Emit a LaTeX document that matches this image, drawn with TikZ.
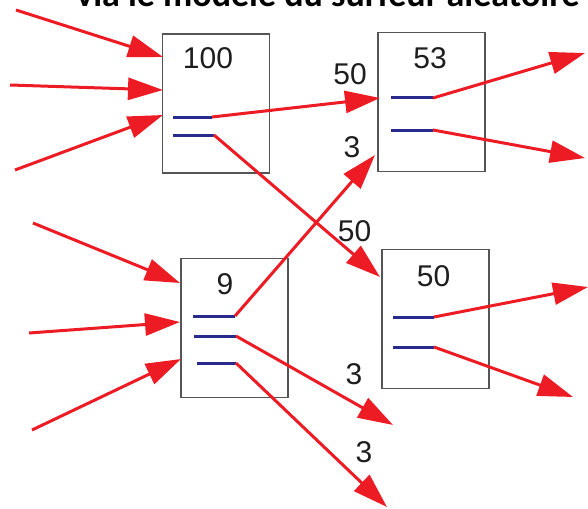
\documentclass[tikz,border=0pt]{standalone}
\usepackage{fontspec}
\setmainfont{Liberation Sans}
\newfontfamily\headfont{Carlito}
\usepackage{xcolor}
\definecolor{arrowred}{RGB}{237,28,36}
\definecolor{slotblue}{RGB}{40,42,140}
\definecolor{boxgray}{RGB}{85,85,85}
\definecolor{ink}{RGB}{30,30,30}
\usepackage{tikz}
\usetikzlibrary{arrows.meta}

\begin{document}
\begin{tikzpicture}[
        x=1pt, y=-1pt,
        page/.style={rectangle, draw=boxgray, line width=1.3pt, minimum width=107pt, minimum height=139pt, inner sep=0pt},
        rank/.style={font=\fontsize{30}{36}\selectfont, text=ink, inner sep=0pt},
        weight/.style={font=\fontsize{30}{36}\selectfont, text=ink, inner sep=0pt},
        slot/.style={-, line width=3pt, slotblue},
        flow/.style={-{Triangle[length=35pt, width=22pt]}, line width=3pt, arrowred}
    ]
        \useasboundingbox (0,0) rectangle (588,508);
        \node[anchor=base, text=black, font=\headfont\bfseries\fontsize{36}{40}\selectfont] (title) at (328,7) {via le modèle du surfeur aléatoire};

        \node[page] (pA) at (216,103.5) {};
        \node[page] (pB) at (431.5,102) {};
        \node[page] (pC) at (234.5,328) {};
        \node[page] (pD) at (435.5,319) {};

        \node[rank] (rA) at (208,58) {100};
        \node[rank] (rB) at (430,58) {53};
        \node[rank] (rC) at (225,284) {9};
        \node[rank] (rD) at (433.5,276.5) {50};

        \coordinate (sA1) at (173,117);  \coordinate (oA1) at (212,117);
        \coordinate (sA2) at (173,135);  \coordinate (oA2) at (214,135);
        \coordinate (sB1) at (391,98);   \coordinate (oB1) at (433,98);
        \coordinate (sB2) at (391,130);  \coordinate (oB2) at (433,130);
        \coordinate (sC1) at (193,316);  \coordinate (oC1) at (235,316);
        \coordinate (sC2) at (194,336);  \coordinate (oC2) at (236,336);
        \coordinate (sC3) at (197,363);  \coordinate (oC3) at (236,363);
        \coordinate (sD1) at (393,317);  \coordinate (oD1) at (434,317);
        \coordinate (sD2) at (393,347);  \coordinate (oD2) at (434,347);

        \draw[slot] (sA1) -- (oA1);
        \draw[slot] (sA2) -- (oA2);
        \draw[slot] (sB1) -- (oB1);
        \draw[slot] (sB2) -- (oB2);
        \draw[slot] (sC1) -- (oC1);
        \draw[slot] (sC2) -- (oC2);
        \draw[slot] (sC3) -- (oC3);
        \draw[slot] (sD1) -- (oD1);
        \draw[slot] (sD2) -- (oD2);

        \coordinate (inA1) at (16,10);   \coordinate (tA1) at (163,57);
        \coordinate (inA2) at (10,85);   \coordinate (tA2) at (163,90);
        \coordinate (inA3) at (15,170);  \coordinate (tA3) at (163,115);
        \coordinate (inC1) at (33,223);  \coordinate (tC1) at (180,283);
        \coordinate (inC2) at (29,333);  \coordinate (tC2) at (180,322);
        \coordinate (inC3) at (32,430);  \coordinate (tC3) at (181,359);
        \coordinate (tB1) at (380,98);
        \coordinate (tB2) at (375,155);
        \coordinate (tD1) at (380,277);
        \coordinate (outB1) at (585,53);
        \coordinate (outB2) at (585,158);
        \coordinate (outC2) at (393,425);
        \coordinate (outC3) at (387,507);
        \coordinate (outD1) at (588,287);
        \coordinate (outD2) at (573,397);

        \draw[flow] (inA1) -- (tA1);
        \draw[flow] (inA2) -- (tA2);
        \draw[flow] (inA3) -- (tA3);
        \draw[flow] (inC1) -- (tC1);
        \draw[flow] (inC2) -- (tC2);
        \draw[flow] (inC3) -- (tC3);

        \draw[flow] (oA1) -- (tB1);
        \draw[flow] (oA2) -- (tD1);
        \draw[flow] (oC1) -- (tB2);
        \draw[flow] (oC2) -- (outC2);
        \draw[flow] (oC3) -- (outC3);
        \draw[flow] (oB1) -- (outB1);
        \draw[flow] (oB2) -- (outB2);
        \draw[flow] (oD1) -- (outD1);
        \draw[flow] (oD2) -- (outD2);

        \node[weight] (wAB) at (350,74) {50};
        \node[weight] (wCB) at (352,147.5) {3};
        \node[weight] (wAD) at (354.5,231) {50};
        \node[weight] (wC2) at (354,374) {3};
        \node[weight] (wC3) at (364,452.5) {3};
    \end{tikzpicture}
\end{document}
